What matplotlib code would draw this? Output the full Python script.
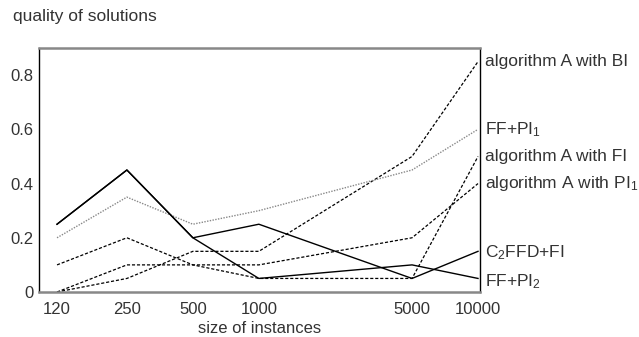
import matplotlib
matplotlib.use("Agg")
import matplotlib.pyplot as plt

sizes = [120, 250, 500, 1000, 5000, 10000]
size_labels = ["120", "250", "500", "1000", "5000", "10000"]

alg_a_bi = [0.0, 0.05, 0.15, 0.15, 0.5, 0.85]
ff_pi1 = [0.2, 0.35, 0.25, 0.3, 0.45, 0.6]
alg_a_fi = [0.1, 0.2, 0.1, 0.05, 0.05, 0.5]
alg_a_pi1 = [0.0, 0.1, 0.1, 0.1, 0.2, 0.4]
c2ffd_fi = [0.25, 0.45, 0.2, 0.25, 0.05, 0.15]
ff_pi2 = [0.25, 0.45, 0.2, 0.05, 0.1, 0.05]

series_labels = ["algorithm A with BI", "FF+PI$_1$", "algorithm A with FI",
                 "algorithm A with PI$_1$", "C$_2$FFD+FI", "FF+PI$_2$"]
label_y = [0.85, 0.6, 0.5, 0.4, 0.145, 0.04]

plt.rcParams['font.family'] = ['Liberation Sans', 'DejaVu Sans']
plt.rcParams['mathtext.fontset'] = 'custom'
plt.rcParams['mathtext.rm'] = 'Liberation Sans'
plt.rcParams['mathtext.it'] = 'Liberation Sans:italic'
plt.rcParams['mathtext.bf'] = 'Liberation Sans:bold'

txt = '#333333'
fig = plt.figure(figsize=(6.39, 3.37), dpi=100)
ax = fig.add_axes([39/639, 1-292/337, (480-39)/639, (292-48)/337])

ax.plot(sizes, alg_a_bi, color='black', lw=0.9, ls=(0, (2.5, 1.5)))
ax.plot(sizes, ff_pi1, color='#888888', lw=1.0, ls=(0, (1, 1)))
ax.plot(sizes, alg_a_fi, color='black', lw=0.9, ls=(0, (2.5, 1.5)))
ax.plot(sizes, alg_a_pi1, color='black', lw=0.9, ls=(0, (2.5, 1.5)))
ax.plot(sizes, c2ffd_fi, color='black', lw=1.0, ls='-')
ax.plot(sizes, ff_pi2, color='black', lw=1.0, ls='-')

ax.set_xscale('log')
ax.set_xlim(99.3, 10210)
ax.set_ylim(0, 0.9)
ax.set_xticks(sizes)
ax.set_xticklabels(size_labels)
ax.minorticks_off()
ax.set_yticks([0, 0.2, 0.4, 0.6, 0.8])
ax.set_yticklabels(["0", "0.2", "0.4", "0.6", "0.8"])
ax.tick_params(length=0, labelsize=12, colors=txt)
ax.tick_params(axis='x', pad=7)
ax.tick_params(axis='y', pad=4)

for s in ['top', 'bottom']:
    ax.spines[s].set_color('#888888')
    ax.spines[s].set_linewidth(1.8)
for s in ['left', 'right']:
    ax.spines[s].set_color('black')
    ax.spines[s].set_linewidth(1.0)

for lab, y in zip(series_labels, label_y):
    ax.text(1.012, y, lab, transform=ax.get_yaxis_transform(), va='center',
            ha='left', fontsize=12.5, color=txt)

ax.set_xlabel("size of instances", fontsize=12, color=txt, labelpad=3)
fig.text(13/639, 1-17/337, "quality of solutions", fontsize=12.5, color=txt,
         va='center', ha='left')

fig.savefig("out.png", dpi=100)
